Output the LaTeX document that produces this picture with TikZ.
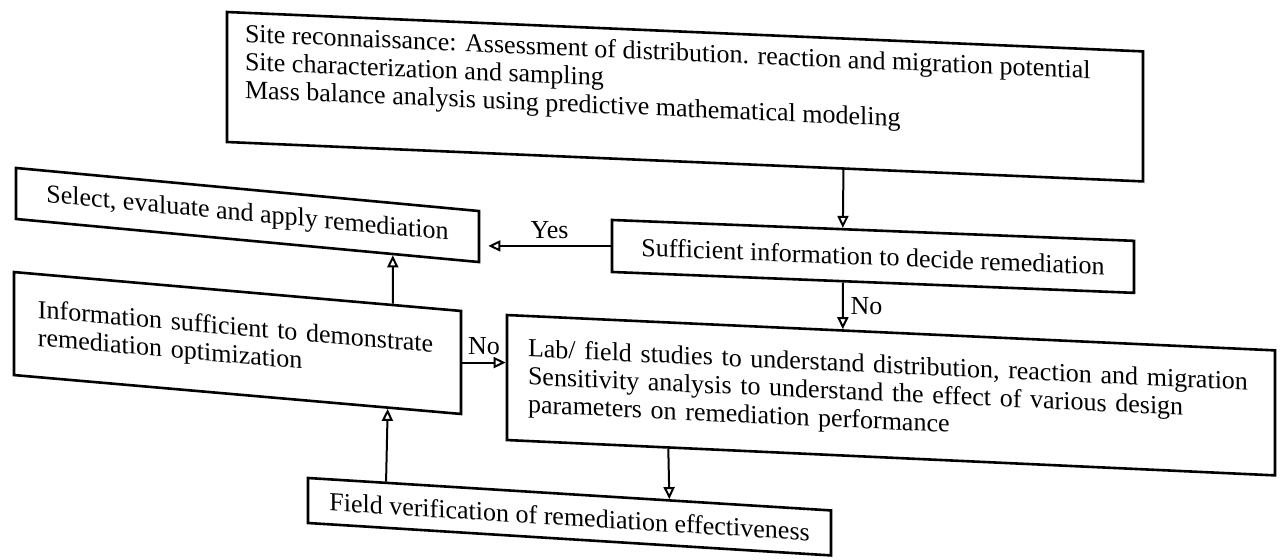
\documentclass[tikz,border=0pt]{standalone}
\usepackage{fontspec}
\setmainfont{Liberation Serif}
\usetikzlibrary{arrows.meta,calc}
\begin{document}
\begin{tikzpicture}[x=0.5pt,y=-0.5pt,
  box/.style={draw, line width=1.3pt, inner ysep=0pt, transform shape,
    font=\fontsize{13}{14}\selectfont},
  conn/.style={line width=1pt, -{Triangle[open,length=6pt,width=5.5pt]}},
  lbl/.style={font=\fontsize{13}{14}\selectfont}]
\useasboundingbox (0,0) rectangle (1285,559);
\node[box, yslant=-0.043, inner xsep=9pt, inner ysep=2pt] (A) at (685,96.7)
  {\parbox[c][61pt][t]{440pt}{\raggedright\vspace*{3.5pt}%
   Site reconnaissance: Assessment of distribution. reaction and migration potential\\
   Site characterization and sampling\\
   Mass balance analysis using predictive mathematical modeling}};
\node[box, yslant=-0.093, minimum width=231.5pt, minimum height=25.5pt] (B) at (247.5,215)
  {Select, evaluate and apply remediation};
\node[box, yslant=-0.04, minimum width=261pt, minimum height=26pt] (C) at (873,256.4)
  {Sufficient information to decide remediation};
\node[box, yslant=-0.087, align=left, text width=199.5pt, inner xsep=12pt, minimum height=51.5pt] (D) at (237.5,343)
  {Information sufficient to demonstrate\\ remediation optimization};
\node[box, yslant=-0.046, align=left, text width=363pt, inner xsep=10.5pt, minimum height=62.5pt] (E) at (891,395.2)
  {Lab/ field studies to understand distribution, reaction and migration\\
   Sensitivity analysis to understand the effect of various design\\
   parameters on remediation performance};
\node[box, yslant=-0.062, minimum width=261.5pt, minimum height=22.5pt] (F) at (569.5,516.7)
  {Field verification of remediation effectiveness};
\coordinate (a1) at ($(A.south west)!0.6725!(A.south east)$);
\coordinate (c1) at ($(C.north west)!0.4425!(C.north east)$);
\coordinate (c2) at ($(C.south west)!0.4425!(C.south east)$);
\coordinate (e1) at ($(E.north west)!0.4375!(E.north east)$);
\coordinate (bt) at ($(B.east |- C.west)+(8,0)$);
\coordinate (d1) at ($(D.north west)!0.8456!(D.north east)$);
\coordinate (b1) at ($(B.south west)!0.812!(B.south east)$);
\coordinate (et) at (E.west |- D.east);
\coordinate (e2) at ($(E.south west)!0.211!(E.south east)$);
\coordinate (f1) at ($(F.north west)!0.690!(F.north east)$);
\coordinate (f2) at ($(F.north west)!0.151!(F.north east)$);
\coordinate (d2) at ($(D.south west)!0.834!(D.south east)$);
\draw[conn] (a1) -- (c1);
\draw[conn] (c2) -- node[lbl, right] {No} (e1);
\draw[conn] (C.west) -- node[lbl, above] {Yes} (bt);
\draw[conn] (d1) -- (b1);
\draw[conn] (D.east) -- node[lbl, above] {No} (et);
\draw[conn] (e2) -- (f1);
\draw[conn] (f2) -- (d2);
\end{tikzpicture}
\end{document}
